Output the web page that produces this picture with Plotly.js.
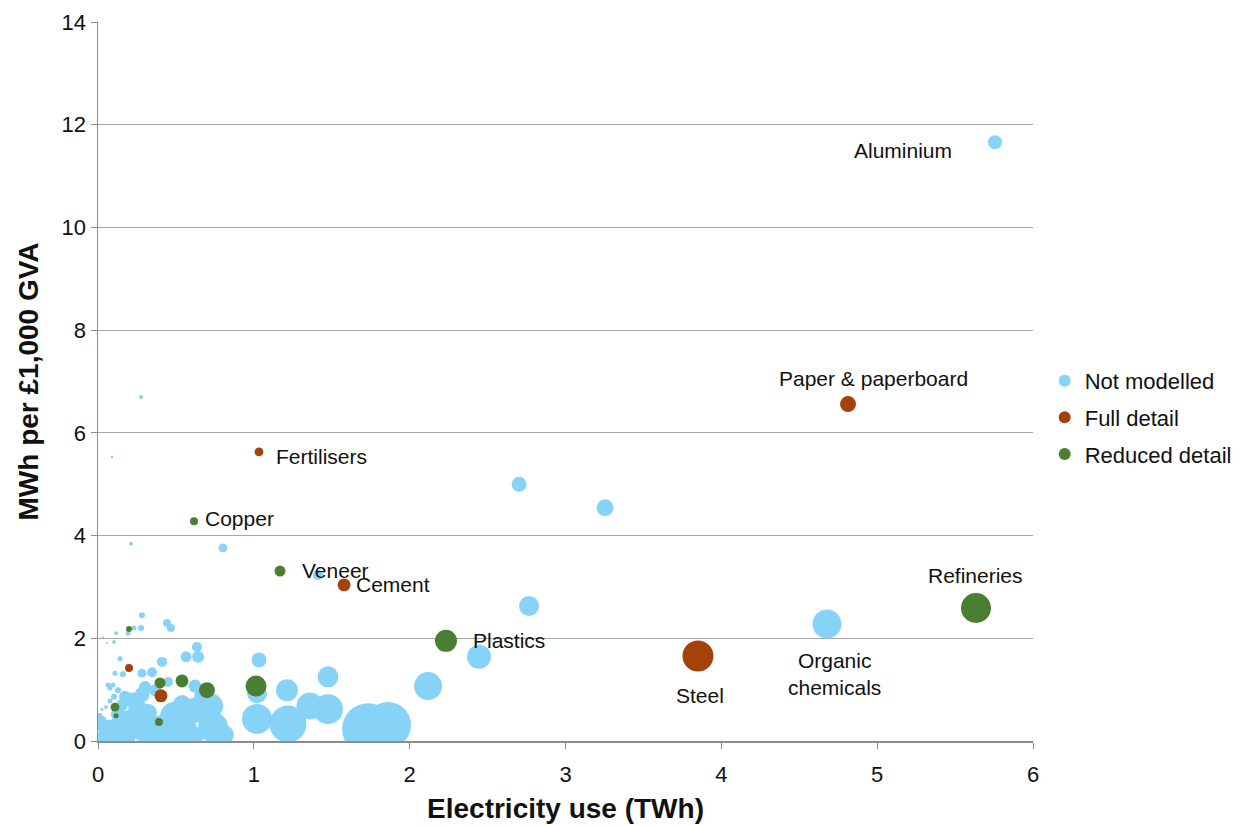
<!DOCTYPE html>
<html>
<head>
<meta charset="utf-8">
<script src="https://cdn.plot.ly/plotly-3.0.1.min.js"></script>
<style>
  html, body { margin: 0; padding: 0; background: #ffffff; }
  #chart { width: 1251px; height: 826px; }
</style>
</head>
<body>
<div id="chart"></div>
<script>
// Electricity use (TWh), intensity (MWh per £1,000 GVA) and GVA (£bn, bubble area) by sector

// Not modelled
const notModelledX = [5.756, 4.678, 3.254, 2.702, 2.766, 2.445, 2.118, 1.861, 1.733, 1.476,
  1.476, 1.360, 1.219, 1.213, 1.020, 1.020, 1.033, 1.412, 0.802, 0.212,
  0.090, 0.276, 0.719, 0.738, 0.090, 0.193, 0.257, 0.302, 0.411, 0.494,
  0.539, 0.622, 0.674, 0.218, 0.282, 0.302, 0.366, 0.449, 0.622, 0.173,
  0.154, 0.045, 0.026, 0.128, 0.237, 0.321, 0.064, 0.096, 0.077, 0.128,
  0.103, 0.077, 0.026, 0.051, 0.109, 0.160, 0.282, 0.347, 0.141, 0.411,
  0.565, 0.635, 0.642, 0.282, 0.443, 0.468, 0.231, 0.276, 0.193, 0.116,
  0.032, 0.058, 0.103, 0.013, 0.173, 0.430, 0.366, 0.590, 0.141, 0.013,
  0.808, 0.250, 0.540];
const notModelledY = [11.66, 2.28, 4.54, 5.00, 2.63, 1.64, 1.07, 0.31, 0.23, 0.62,
  1.25, 0.68, 0.33, 0.99, 0.43, 0.93, 1.58, 3.23, 3.76, 3.84,
  5.53, 6.70, 0.68, 0.27, 0.175, 0.35, 0.60, 0.27, 0.21, 0.47,
  0.21, 0.60, 0.86, 0.80, 0.90, 1.05, 0.99, 1.15, 1.07, 0.86,
  0.70, 0.27, 0.08, 0.51, 0.51, 0.55, 1.09, 1.09, 1.03, 0.99,
  0.86, 0.78, 0.62, 0.66, 1.32, 1.30, 1.32, 1.34, 1.60, 1.54,
  1.64, 1.83, 1.64, 2.45, 2.30, 2.20, 2.20, 2.20, 2.10, 2.10,
  2.02, 1.91, 1.93, 0.51, 0.10, 0.06, 0.12, 0.06, 0.25, 0.37,
  0.12, 0.70, 0.72];
const notModelledGva = [0.49, 2.10, 0.72, 0.56, 1.00, 1.44, 1.96, 5.29, 6.76, 2.25,
  1.10, 1.82, 3.42, 1.21, 2.25, 1.00, 0.56, 0.25, 0.20, 0.04,
  0.016, 0.04, 1.69, 2.25, 1.56, 1.56, 1.00, 2.25, 2.25, 2.25,
  2.25, 1.56, 0.81, 0.56, 0.56, 0.36, 0.36, 0.25, 0.42, 0.36,
  0.36, 0.56, 0.36, 0.49, 0.81, 0.81, 0.0625, 0.0625, 0.0625, 0.09,
  0.09, 0.0625, 0.0225, 0.04, 0.0625, 0.09, 0.20, 0.25, 0.0625, 0.25,
  0.30, 0.25, 0.36, 0.09, 0.16, 0.16, 0.0625, 0.09, 0.0625, 0.04,
  0.01, 0.01, 0.04, 0.04, 1.21, 1.44, 1.96, 1.69, 1.21, 0.49,
  1.00, 0.64, 0.81];

// Full detail
const fullDetailX = [1.033, 1.579, 3.850, 4.813, 0.199, 0.404];
const fullDetailY = [5.63, 3.04, 1.655, 6.56, 1.42, 0.88];
const fullDetailGva = [0.20, 0.42, 2.40, 0.64, 0.16, 0.42];

// Reduced detail
const reducedDetailX = [0.616, 1.168, 2.233, 5.634, 0.199, 0.398, 0.539, 0.699, 1.014, 0.109, 0.116, 0.391];
const reducedDetailY = [4.28, 3.31, 1.95, 2.59, 2.18, 1.13, 1.17, 0.99, 1.07, 0.66, 0.49, 0.37];
const reducedDetailGva = [0.16, 0.30, 1.21, 2.25, 0.09, 0.30, 0.42, 0.64, 1.10, 0.20, 0.0625, 0.16];

// Named sectors
const sectorLabels = ['Aluminium', 'Paper & paperboard', 'Fertilisers', 'Copper', 'Veneer',
  'Cement', 'Plastics', 'Steel', 'Organic<br>chemicals', 'Refineries'];

const colours = { notModelled: '#87d3f7', fullDetail: '#a5410b', reducedDetail: '#4a7e32' };
const SIZEREF = 0.005;
const FONT = 'Liberation Sans, Arial, sans-serif';

function bubbleTrace(name, x, y, gva, colour) {
  return {
    type: 'scatter', mode: 'markers', name: name,
    x: x, y: y, legendgroup: name,
    marker: { size: gva, sizemode: 'area', sizeref: SIZEREF, color: colour, line: { width: 0 }, opacity: 1 },
    hoverinfo: 'x+y+name'
  };
}

const data = [
  bubbleTrace('Not modelled', notModelledX, notModelledY, notModelledGva, colours.notModelled),
  bubbleTrace('Full detail', fullDetailX, fullDetailY, fullDetailGva, colours.fullDetail),
  bubbleTrace('Reduced detail', reducedDetailX, reducedDetailY, reducedDetailGva, colours.reducedDetail)
];

// label placement around each named bubble (pixel offsets)
const labelSpecs = [
  { text: sectorLabels[0], x: notModelledX[0], y: notModelledY[0], xanchor: 'right', xshift: -41, yshift: -8 },
  { text: sectorLabels[1], x: fullDetailX[3], y: fullDetailY[3], xanchor: 'center', xshift: 25, yshift: 26 },
  { text: sectorLabels[2], x: fullDetailX[0], y: fullDetailY[0], xanchor: 'left', xshift: 15, yshift: -5 },
  { text: sectorLabels[3], x: reducedDetailX[0], y: reducedDetailY[0], xanchor: 'left', xshift: 9, yshift: 3 },
  { text: sectorLabels[4], x: reducedDetailX[1], y: reducedDetailY[1], xanchor: 'left', xshift: 20, yshift: 1 },
  { text: sectorLabels[5], x: fullDetailX[1], y: fullDetailY[1], xanchor: 'left', xshift: 10, yshift: 0 },
  { text: sectorLabels[6], x: reducedDetailX[2], y: reducedDetailY[2], xanchor: 'left', xshift: 25, yshift: 0 },
  { text: sectorLabels[7], x: fullDetailX[2], y: fullDetailY[2], xanchor: 'center', xshift: 2, yshift: -39 },
  { text: sectorLabels[8], x: notModelledX[1], y: notModelledY[1], xanchor: 'center', xshift: 8, yshift: -50 },
  { text: sectorLabels[9], x: reducedDetailX[3], y: reducedDetailY[3], xanchor: 'center', xshift: 0, yshift: 32 }
];

const annotations = labelSpecs.map(s => ({
  text: s.text, x: s.x, y: s.y, xref: 'x', yref: 'y',
  xanchor: s.xanchor, yanchor: 'middle', xshift: s.xshift, yshift: s.yshift,
  showarrow: false, align: 'center',
  font: { family: FONT, size: 21, color: '#111111' }
}));

const axisColour = '#8c8c8c';

const layout = {
  width: 1251, height: 826,
  margin: { l: 98, r: 218, t: 22, b: 85 },
  paper_bgcolor: '#ffffff', plot_bgcolor: '#ffffff',
  font: { family: FONT, size: 20, color: '#111111' },
  showlegend: true,
  legend: {
    x: 1.0125, xanchor: 'left', y: 0.45, yanchor: 'middle',
    font: { family: FONT, size: 22, color: '#111111' },
    itemsizing: 'constant', tracegroupgap: 5, bgcolor: 'rgba(0,0,0,0)'
  },
  xaxis: {
    range: [0, 6], dtick: 1, tick0: 0,
    showgrid: false, zeroline: false,
    showline: true, linecolor: axisColour, linewidth: 1.5,
    ticks: 'outside', ticklen: 6, tickcolor: axisColour, tickwidth: 1,
    ticklabelstandoff: 7,
    tickfont: { family: FONT, size: 22, color: '#111111' },
    title: { text: '<b>Electricity use (TWh)</b>', font: { family: FONT, size: 28, color: '#111111' }, standoff: 12 },
    automargin: false, fixedrange: true
  },
  yaxis: {
    range: [0, 14], dtick: 2, tick0: 0,
    showgrid: true, gridcolor: '#a8a8a8', gridwidth: 1,
    zeroline: false,
    showline: true, linecolor: axisColour, linewidth: 1.5,
    ticks: 'outside', ticklen: 6, tickcolor: axisColour, tickwidth: 1,
    tickfont: { family: FONT, size: 22, color: '#111111' },
    title: { text: '<b>MWh per £1,000 GVA</b>', font: { family: FONT, size: 28, color: '#111111' }, standoff: 15 },
    automargin: false, fixedrange: true
  },
  annotations: annotations
};

Plotly.newPlot('chart', data, layout, { displayModeBar: false, staticPlot: true });
</script>
</body>
</html>
